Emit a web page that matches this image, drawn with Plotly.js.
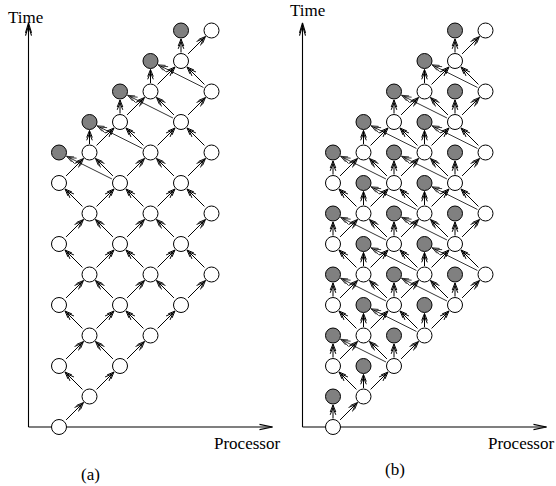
<!DOCTYPE html>
<html><head><meta charset="utf-8">
<script src="https://cdn.plot.ly/plotly-3.0.1.min.js"></script>
<style>html,body{margin:0;padding:0;background:#fff}#chart{width:556px;height:486px}</style>
</head><body><div id="chart"></div>
<script>
// White (computation) nodes, identical in both panels: processor index / time step
const whiteProc = [0, 1, 0,2, 1,3, 0,2,4, 1,3,5, 0,2,4, 1,3,5, 0,2,4, 1,3,5, 2,4, 3,5, 4, 5];
const whiteTime = [0, 1, 2,2, 3,3, 4,4,4, 5,5,5, 6,6,6, 7,7,7, 8,8,8, 9,9,9, 10,10, 11,11, 12, 13];
// Grey (checkpoint) nodes, panel (a)
const grayAProc = [0, 1, 2, 3, 4];
const grayATime = [9, 10, 11, 12, 13];
const grayAVertical = [false, true, true, true, true];
// Grey (checkpoint) nodes, panel (b)
const grayBProc = [0, 1, 0,2, 1,3, 0,2,4, 1,3, 0,2,4, 1,3, 0,2,4, 1,3, 2,4, 3, 4];
const grayBTime = [1, 2, 3,3, 4,4, 5,5,5, 6,6, 7,7,7, 8,8, 9,9,9, 10,10, 11,11, 12, 13];
// Text
const axisLabelY = 'Time';
const axisLabelX = 'Processor';
const panelLabels = ['(a)', '(b)'];

const U = 30.5;           // pixels per unit (both axes)
const W = 556, H = 486;
const FONT = {family: 'Liberation Serif', size: 17, color: '#000', weight: 'normal'};

function has(procs, times, p, t) {
  for (let i = 0; i < procs.length; i++) if (procs[i] === p && times[i] === t) return true;
  return false;
}
function arrow(seg, x0, y0, x1, y1, s0, s1, L, Wd, doubleHead) {
  const dx = x1 - x0, dy = y1 - y0, d = Math.hypot(dx, dy);
  const ux = dx / d, uy = dy / d, nx = -uy, ny = ux;
  const sx = x0 + ux * s0 / U, sy = y0 + uy * s0 / U;
  const tx = x1 - ux * s1 / U, ty = y1 - uy * s1 / U;
  seg.x.push(sx, tx, null); seg.y.push(sy, ty, null);
  const offs = doubleHead ? [0, 2.8] : [0];
  offs.forEach(k => {
    const bx = tx - ux * k / U, by = ty - uy * k / U;
    seg.x.push(bx - ux * L / U + nx * Wd / U, bx, bx - ux * L / U - nx * Wd / U, null);
    seg.y.push(by - uy * L / U + ny * Wd / U, by, by - uy * L / U - ny * Wd / U, null);
  });
}

function panel(grayP, grayT, vertFlags, xa) {
  const seg = {x: [], y: []}, thin = {x: [], y: []}, ax = {x: [], y: []};
  for (let i = 0; i < whiteProc.length; i++) {
    const p = whiteProc[i], t = whiteTime[i];
    [-1, 1].forEach(dp => {
      if (has(whiteProc, whiteTime, p + dp, t + 1)) arrow(seg, p, t, p + dp, t + 1, 10, 8.5, 7, 2.8, true);
    });
  }
  for (let j = 0; j < grayP.length; j++) {
    const p = grayP[j], t = grayT[j];
    if (vertFlags[j] && has(whiteProc, whiteTime, p, t - 1)) arrow(seg, p, t - 1, p, t, 8.5, 8.5, 7, 2.8, true);
    if (has(whiteProc, whiteTime, p + 2, t - 1)) arrow(thin, p + 2, t - 1, p, t, 9, 8.5, 7, 2.8, true);
  }
  arrow(ax, -1, 0, -1, 13.25, 0, 0, 10, 3, true);
  arrow(ax, -1, 0, 7.0, 0, 0, 0, 13, 2.6, false);
  const common = {xaxis: xa, yaxis: 'y', mode: 'lines', hoverinfo: 'skip', showlegend: false};
  return [
    Object.assign({}, common, {x: ax.x, y: ax.y, line: {color: '#000', width: 1.1}}),
    Object.assign({}, common, {x: thin.x, y: thin.y, line: {color: '#000', width: 0.8}}),
    Object.assign({}, common, {x: seg.x, y: seg.y, line: {color: '#000', width: 1}}),
    {x: whiteProc, y: whiteTime, xaxis: xa, yaxis: 'y', mode: 'markers', hoverinfo: 'skip', showlegend: false,
     marker: {size: 15, color: '#fff', line: {color: '#000', width: 1}}},
    {x: grayP, y: grayT, xaxis: xa, yaxis: 'y', mode: 'markers', hoverinfo: 'skip', showlegend: false,
     marker: {size: 15, color: '#808080', line: {color: '#000', width: 1}}}
  ];
}

const grayBVertical = grayBProc.map(() => true);
const traces = panel(grayAProc, grayATime, grayAVertical, 'x')
  .concat(panel(grayBProc, grayBTime, grayBVertical, 'x2'));

const hidden = {showgrid: false, zeroline: false, showticklabels: false, ticks: '', showline: false, fixedrange: true};
function txt(text, px, py) {
  return {text: text, xref: 'paper', yref: 'paper', x: px / W, y: 1 - py / H,
          xanchor: 'center', yanchor: 'middle', showarrow: false, font: FONT};
}
const layout = {
  width: W, height: H, autosize: false,
  margin: {l: 0, r: 0, t: 0, b: 0, pad: 0},
  paper_bgcolor: '#fff', plot_bgcolor: '#fff',
  font: FONT,
  xaxis: Object.assign({}, hidden, {domain: [0, 0.5], range: [(0 - 59) / U, (278 - 59) / U]}),
  xaxis2: Object.assign({}, hidden, {domain: [0.5, 1], range: [(278 - 333) / U, (556 - 333) / U]}),
  yaxis: Object.assign({}, hidden, {domain: [0, 1], range: [(427 - H) / U, 427 / U]}),
  annotations: [
    txt(axisLabelY, 25, 17), txt(axisLabelY, 307, 10),
    txt(axisLabelX, 247, 443), txt(axisLabelX, 521, 443),
    txt(panelLabels[0], 90, 474), txt(panelLabels[1], 395, 469)
  ]
};
Plotly.newPlot('chart', traces, layout, {displayModeBar: false, staticPlot: true});
</script>
</body></html>
